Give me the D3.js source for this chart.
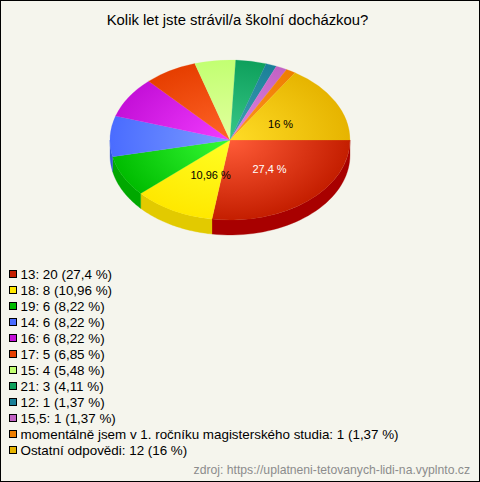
<!DOCTYPE html>
<html><head><meta charset="utf-8">
<script src="https://cdn.jsdelivr.net/npm/d3@7/dist/d3.min.js"></script>
<style>html,body{margin:0;padding:0;background:#f5f5ed}svg{display:block}text{font-family:"Liberation Sans",Arial,sans-serif}</style>
</head><body><svg id="c" width="480" height="482"></svg>
<script>
const chartTitle = "Kolik let jste strávil/a školní docházkou?";
const sourceText = "zdroj: https://uplatneni-tetovanych-lidi-na.vyplnto.cz";
const categories = ["13","18","19","14","16","17","15","21","12","15,5","momentálně jsem v 1. ročníku magisterského studia","Ostatní odpovědi"];
const values = [20,8,6,6,6,5,4,3,1,1,1,12];
const percents = ["27,4","10,96","8,22","8,22","8,22","6,85","5,48","4,11","1,37","1,37","1,37","16"];
// slice shares (the drawn pie differs slightly from the printed percentages)
const sliceShares = [27.4,10.96,8.3,8.2,8.3,7.1,5.5,4.1,1.45,1.5,1.3,15.89];
const innerColors = ["#ff5c38","#ffff24","#36fb36","#7c9cff","#f23cff","#ff6428","#e2ff9e","#38c888","#40a2b4","#e084e0","#ff9422","#ffdc26"];
const rimColors = ["#c41e00","#ffe800","#00bc00","#4a6cff","#c410d8","#e63e00","#c2ff72","#0ea05c","#1a7f98","#c262c4","#ee7e00","#e6b400"];
const wallColors = ["#a80000","#e2ca00","#00a800","#3558d8","#a000b0","#c03000","#a0e050","#008040","#106070","#a040a0","#c06000","#c09000"];
const labelled = {0:"#fff",1:"#000",11:"#000"};

const W=480,H=482,cx=230,cy=140,rx=120,ry=80,depth=15;
const svg=d3.select("#c");
svg.append("rect").attr("x",.5).attr("y",.5).attr("width",W-1).attr("height",H-1).attr("fill","#f5f5ed").attr("stroke","#000");
svg.append("text").attr("x",237.5).attr("y",25).attr("text-anchor","middle").attr("font-size",14.85).attr("fill","#000").text(chartTitle);

const pie=d3.pie().sort(null).startAngle(Math.PI/2).endAngle(Math.PI/2+2*Math.PI)(sliceShares);
const px=a=>Math.sin(a)*rx, py=a=>-Math.cos(a)*ry;
const defs=svg.append("defs");
sliceShares.forEach((v,i)=>{
  const g=defs.append("radialGradient").attr("id","g"+i).attr("gradientUnits","userSpaceOnUse").attr("cx",0).attr("cy",0).attr("r",rx);
  g.append("stop").attr("offset",0).attr("stop-color",innerColors[i]);
  g.append("stop").attr("offset",1).attr("stop-color",rimColors[i]);
});
const root=svg.append("g").attr("transform",`translate(${cx},${cy})`);
const wall=d3.area().x(a=>px(a)).y0(a=>py(a)).y1(a=>py(a)+depth);
pie.forEach((d,i)=>{
  const a0=Math.max(d.startAngle,Math.PI/2), a1=Math.min(d.endAngle,1.5*Math.PI);
  if(a1<=a0) return;
  root.append("path").attr("fill",wallColors[i]).attr("stroke",wallColors[i]).attr("stroke-width",.3)
    .attr("d",wall(d3.range(0,41).map(k=>a0+(a1-a0)*k/40)));
});
const face=root.append("g").attr("transform",`scale(1,${ry/rx})`);
const arc=d3.arc().innerRadius(0).outerRadius(rx);
face.selectAll("path").data(pie).join("path").attr("d",arc).attr("fill",(d,i)=>`url(#g${i})`)
  .attr("stroke",(d,i)=>`url(#g${i})`).attr("stroke-width",.3);
const lab=d3.arc().innerRadius(0).outerRadius(rx*.96);
const nudge={1:[8,1],11:[0,2],0:[2,0]};
pie.forEach((d,i)=>{
  if(!(i in labelled)) return;
  const [x,y]=lab.centroid(d);
  root.append("text").attr("x",x+nudge[i][0]).attr("y",y*ry/rx+nudge[i][1]+4).attr("text-anchor","middle")
    .attr("font-size",11).attr("fill",labelled[i]).text(percents[i]+" %");
});
const ly=d3.scalePoint().domain(d3.range(categories.length)).range([274,450]);
categories.forEach((c,i)=>{
  svg.append("rect").attr("x",9.5).attr("y",ly(i)-3.5).attr("width",7).attr("height",7).attr("fill",rimColors[i]).attr("stroke","#000");
  svg.append("text").attr("x",20.5).attr("y",ly(i)+4.5).attr("font-size",13.4).attr("fill","#000").text(`${c}: ${values[i]} (${percents[i]} %)`);
});
svg.append("text").attr("x",470).attr("y",474).attr("text-anchor","end").attr("font-size",12.2).attr("fill","#8c8c8c").text(sourceText);
</script></body></html>
